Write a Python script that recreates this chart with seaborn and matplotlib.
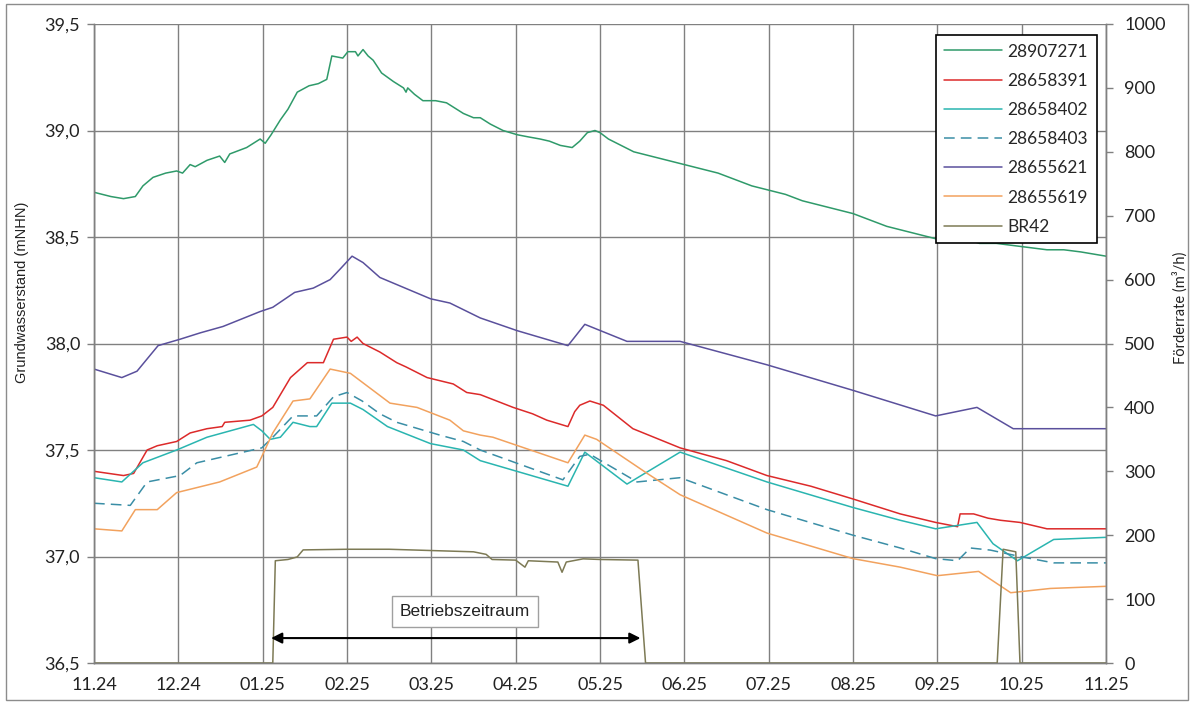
import matplotlib
matplotlib.use("Agg")
import matplotlib.pyplot as plt
from matplotlib.patches import Rectangle
from matplotlib.ticker import FuncFormatter, MultipleLocator
import seaborn as sns
import pandas as pd

# Month index: 0 = 11.24 ... 12 = 11.25
month_labels = ["11.24", "12.24", "01.25", "02.25", "03.25", "04.25", "05.25",
                "06.25", "07.25", "08.25", "09.25", "10.25", "11.25"]

# Groundwater levels (mNHN) per observation well
x_28907271 = [0.00, 0.20, 0.35, 0.49, 0.58, 0.70, 0.85, 0.98, 1.05, 1.14, 1.20, 1.34, 1.49, 1.55,
              1.61, 1.81, 1.97, 2.03, 2.10, 2.21, 2.30, 2.41, 2.55, 2.66, 2.76, 2.82, 2.95, 3.01,
              3.10, 3.13, 3.19, 3.25, 3.31, 3.41, 3.55, 3.67, 3.70, 3.72, 3.80, 3.90, 4.05, 4.18,
              4.30, 4.38, 4.50, 4.58, 4.70, 4.85, 5.02, 5.15, 5.29, 5.40, 5.53, 5.67, 5.76, 5.85,
              5.94, 6.00, 6.10, 6.25, 6.40, 6.60, 6.80, 7.00, 7.20, 7.40, 7.60, 7.80, 8.00, 8.20,
              8.40, 8.60, 8.80, 9.00, 9.20, 9.40, 9.60, 9.80, 10.00, 10.20, 10.35, 10.50, 10.70,
              10.90, 11.10, 11.30, 11.50, 11.70, 11.85, 12.00]
wl_28907271 = [38.71, 38.69, 38.68, 38.69, 38.74, 38.78, 38.80, 38.81, 38.80, 38.84, 38.83, 38.86,
               38.88, 38.85, 38.89, 38.92, 38.96, 38.94, 38.98, 39.05, 39.10, 39.18, 39.21, 39.22,
               39.24, 39.35, 39.34, 39.37, 39.37, 39.35, 39.38, 39.35, 39.33, 39.27, 39.23, 39.20,
               39.18, 39.20, 39.17, 39.14, 39.14, 39.13, 39.10, 39.08, 39.06, 39.06, 39.03, 39.00,
               38.98, 38.97, 38.96, 38.95, 38.93, 38.92, 38.95, 38.99, 39.00, 38.99, 38.96, 38.93,
               38.90, 38.88, 38.86, 38.84, 38.82, 38.80, 38.77, 38.74, 38.72, 38.70, 38.67, 38.65,
               38.63, 38.61, 38.58, 38.55, 38.53, 38.51, 38.49, 38.51, 38.49, 38.47, 38.47, 38.46,
               38.45, 38.44, 38.44, 38.43, 38.42, 38.41]

x_28658391 = [0.00, 0.35, 0.47, 0.63, 0.75, 0.98, 1.14, 1.34, 1.52, 1.55, 1.85, 1.99, 2.12, 2.33,
              2.53, 2.72, 2.84, 3.00, 3.05, 3.12, 3.19, 3.39, 3.59, 3.70, 3.95, 4.26, 4.42, 4.58,
              4.97, 5.20, 5.37, 5.62, 5.70, 5.76, 5.88, 6.04, 6.39, 6.95, 7.50, 7.98, 8.50, 9.00,
              9.32, 9.56, 9.98, 10.24, 10.27, 10.43, 10.60, 10.75, 10.98, 11.30, 11.60, 12.00]
wl_28658391 = [37.40, 37.38, 37.39, 37.50, 37.52, 37.54, 37.58, 37.60, 37.61, 37.63, 37.64, 37.66,
               37.70, 37.84, 37.91, 37.91, 38.02, 38.03, 38.01, 38.03, 38.00, 37.96, 37.91, 37.89,
               37.84, 37.81, 37.77, 37.76, 37.70, 37.67, 37.64, 37.61, 37.68, 37.71, 37.73, 37.71,
               37.60, 37.51, 37.45, 37.38, 37.33, 37.27, 37.23, 37.20, 37.16, 37.14, 37.20, 37.20,
               37.18, 37.17, 37.16, 37.13, 37.13, 37.13]

x_28658402 = [0.00, 0.33, 0.58, 0.98, 1.34, 1.89, 1.99, 2.09, 2.21, 2.36, 2.56, 2.64, 2.82, 3.04,
              3.19, 3.48, 3.99, 4.38, 4.58, 5.62, 5.82, 6.32, 6.95, 7.98, 9.00, 9.56, 9.98, 10.47,
              10.66, 10.95, 11.38, 12.00]
wl_28658402 = [37.37, 37.35, 37.44, 37.50, 37.56, 37.62, 37.59, 37.55, 37.56, 37.63, 37.61, 37.61,
               37.72, 37.72, 37.69, 37.61, 37.53, 37.50, 37.45, 37.33, 37.49, 37.34, 37.49, 37.35,
               37.23, 37.17, 37.13, 37.16, 37.06, 36.98, 37.08, 37.09]

x_28658403 = [0.00, 0.43, 0.63, 1.02, 1.22, 1.77, 1.99, 2.12, 2.36, 2.64, 2.84, 3.00, 3.18, 3.39,
              3.59, 4.10, 4.38, 4.58, 5.56, 5.76, 5.88, 6.44, 6.95, 7.98, 9.00, 9.56, 9.98, 10.24,
              10.39, 10.63, 10.98, 11.38, 12.00]
wl_28658403 = [37.25, 37.24, 37.35, 37.38, 37.44, 37.49, 37.51, 37.56, 37.66, 37.66, 37.75, 37.77,
               37.73, 37.67, 37.63, 37.57, 37.54, 37.50, 37.36, 37.47, 37.48, 37.35, 37.37, 37.22,
               37.10, 37.04, 36.99, 36.98, 37.04, 37.03, 37.00, 36.97, 36.97]

x_28655621 = [0.00, 0.33, 0.51, 0.76, 1.02, 1.26, 1.53, 1.97, 2.12, 2.38, 2.60, 2.80, 2.92, 3.06,
              3.19, 3.39, 3.63, 3.99, 4.22, 4.58, 5.02, 5.62, 5.82, 6.32, 6.95, 7.98, 9.00, 9.98,
              10.47, 10.90, 12.00]
wl_28655621 = [37.88, 37.84, 37.87, 37.99, 38.02, 38.05, 38.08, 38.15, 38.17, 38.24, 38.26, 38.30,
               38.35, 38.41, 38.38, 38.31, 38.27, 38.21, 38.19, 38.12, 38.06, 37.99, 38.09, 38.01,
               38.01, 37.90, 37.78, 37.66, 37.70, 37.60, 37.60]

x_28655619 = [0.00, 0.33, 0.49, 0.75, 0.98, 1.49, 1.93, 1.99, 2.12, 2.36, 2.56, 2.80, 3.04, 3.51,
              3.83, 4.22, 4.38, 4.58, 4.73, 5.62, 5.82, 5.96, 6.56, 6.95, 7.98, 9.00, 9.56, 10.00,
              10.49, 10.87, 11.34, 12.00]
wl_28655619 = [37.13, 37.12, 37.22, 37.22, 37.30, 37.35, 37.42, 37.47, 37.58, 37.73, 37.74, 37.88,
               37.86, 37.72, 37.70, 37.64, 37.59, 37.57, 37.56, 37.44, 37.57, 37.55, 37.39, 37.29,
               37.11, 36.99, 36.95, 36.91, 36.93, 36.83, 36.85, 36.86]

# Pumping rate of well BR42 (m³/h)
x_br42 = [0.00, 2.12, 2.15, 2.30, 2.41, 2.48, 3.00, 3.50, 4.00, 4.50, 4.65, 4.72, 5.00, 5.11,
          5.15, 5.50, 5.55, 5.60, 5.80, 6.00, 6.45, 6.54, 10.71, 10.78, 10.93, 10.98, 12.00]
q_br42 = [0, 0, 160, 162, 166, 177, 178, 178, 176, 174, 170, 162, 161, 150,
          160, 158, 142, 158, 163, 162, 161, 0, 0, 178, 174, 0, 0]

series = [
    ("28907271", x_28907271, wl_28907271, "#2f9a6a", "-"),
    ("28658391", x_28658391, wl_28658391, "#dc2a2a", "-"),
    ("28658402", x_28658402, wl_28658402, "#2ab5b0", "-"),
    ("28658403", x_28658403, wl_28658403, "#3a8ea6", (0, (7, 4))),
    ("28655621", x_28655621, wl_28655621, "#5a509c", "-"),
    ("28655619", x_28655619, wl_28655619, "#f2a25e", "-"),
]
br42_color = "#7d7a55"

sns.set_style("white")
plt.rcParams["font.family"] = ["Lato", "DejaVu Sans"]

fig = plt.figure(figsize=(11.94, 7.04), dpi=100)
ax = fig.add_axes([94 / 1194, 1 - 663 / 704, (1106 - 94) / 1194, (663 - 24) / 704])
ax2 = ax.twinx()

handles = []
for name, xs, ys, col, ls in series:
    df = pd.DataFrame({"monat": xs, "stand": ys})
    sns.lineplot(data=df, x="monat", y="stand", ax=ax, color=col, linewidth=1.1,
                 linestyle=ls, estimator=None, sort=False, legend=False)
    handles.append(ax.get_lines()[-1])

df_q = pd.DataFrame({"monat": x_br42, "rate": q_br42})
sns.lineplot(data=df_q, x="monat", y="rate", ax=ax2, color=br42_color, linewidth=1.1,
             estimator=None, sort=False, legend=False)
handles.append(ax2.get_lines()[-1])
labels = [s[0] for s in series] + ["BR42"]

grid_col = "#808080"
ax.set_xlim(0, 12)
ax.set_ylim(36.5, 39.5)
ax2.set_ylim(0, 1000)
ax.set_xticks(range(13))
ax.set_xticklabels(month_labels)
ax.yaxis.set_major_locator(MultipleLocator(0.5))
ax.yaxis.set_major_formatter(FuncFormatter(lambda v, p: f"{v:.1f}".replace(".", ",")))
ax2.yaxis.set_major_locator(MultipleLocator(100))
ax.grid(True, color=grid_col, linewidth=1.0)
ax.set_axisbelow(True)

for a in (ax, ax2):
    a.spines["top"].set_visible(False)
    for side in ("left", "right", "bottom"):
        a.spines[side].set_color(grid_col)
        a.spines[side].set_linewidth(1.0)
ax.tick_params(axis="both", which="major", direction="out", length=5, width=1,
               color=grid_col, labelsize=13, labelcolor="#222222", pad=5)
ax2.tick_params(axis="y", direction="out", length=5, width=1, color=grid_col,
                labelsize=13, labelcolor="#222222", pad=8)
ax.set_xlabel("")
ax2.set_xlabel("")
ax.set_ylabel("Grundwasserstand (mNHN)", fontsize=10.5, family="Liberation Sans",
              color="#222222")
ax.yaxis.set_label_coords(-0.064, 0.58)
ax2.set_ylabel("Förderrate (m³/h)", fontsize=10.5, color="#222222")
ax2.yaxis.set_label_coords(1.066, 0.556)

# Operating period marker
ax2.annotate("", xy=(2.10, 39), xytext=(6.48, 39),
             arrowprops=dict(arrowstyle="<|-|>", color="black", lw=1.5,
                             shrinkA=0, shrinkB=0, mutation_scale=16))
ax2.text(4.40, 81, "Betriebszeitraum", ha="center", va="center", fontsize=12.5,
         family="Liberation Sans", color="#222222",
         bbox=dict(boxstyle="square,pad=0.45", facecolor="white", edgecolor="#a0a0a0", lw=1))

leg = ax2.legend(handles, labels, loc="upper right", bbox_to_anchor=(0.991, 0.983),
                 borderaxespad=0, fancybox=False, framealpha=1, edgecolor="black",
                 fontsize=12.5, handlelength=3.3, handletextpad=0.35, labelspacing=0.76,
                 borderpad=0.5)
leg.get_frame().set_linewidth(1.2)

# Outer chart frame
fig.patches.append(Rectangle((6 / 1194, 4 / 704), 1182 / 1194, 696 / 704,
                             transform=fig.transFigure, fill=False,
                             edgecolor="#8c8c8c", linewidth=1.0))

fig.savefig("out.png", dpi=100)
